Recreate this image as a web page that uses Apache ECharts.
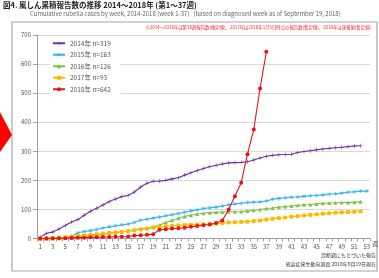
<!DOCTYPE html>
<html>
<head>
<meta charset="utf-8">
<script src="https://cdn.jsdelivr.net/npm/echarts@6/dist/echarts.min.js"></script>
<style>
  html, body { margin: 0; padding: 0; background: #fff; }
  #chart { width: 379px; height: 278px; }
</style>
</head>
<body>
<div id="chart"></div>
<script>
// 風しん累積報告数 週別 2014-2018
var weeks = [];
for (var w = 1; w <= 53; w++) weeks.push(String(w));

var seriesNames = ['2014年 n=319', '2015年 n=163', '2016年 n=126', '2017年 n=93', '2018年 n=642'];
var seriesColors = ['#7030a0', '#35b4ee', '#7dc242', '#ffb800', '#e8131a'];

var cases2014 = [4, 18, 22, 33, 45, 57, 65, 80, 94, 104, 115, 127, 136, 144, 148, 160, 177, 190, 197, 198,
  200, 205, 209, 218, 226, 234, 241, 247, 252, 256, 260, 261, 262, 264, 270, 277, 283, 286, 288, 289,
  290, 296, 299, 302, 305, 308, 310, 312, 314, 316, 318, 319];
var cases2015 = [0, 1, 2, 3, 4, 8, 20, 24, 27, 31, 36, 40, 44, 47, 50, 55, 63, 66, 70, 74,
  78, 82, 86, 90, 95, 99, 103, 106, 108, 112, 116, 119, 121, 124, 125, 126, 129, 135, 138, 140,
  142, 143, 145, 147, 148, 150, 152, 154, 156, 159, 161, 163, 163];
var cases2016 = [0, 0, 1, 1, 2, 3, 5, 7, 10, 12, 15, 18, 20, 23, 26, 30, 33, 36, 40, 46,
  55, 63, 70, 76, 80, 84, 87, 89, 90, 91, 92, 92, 93, 95, 97, 100, 103, 105, 108, 110,
  112, 114, 116, 117, 119, 121, 122, 123, 124, 124, 125, 126];
var cases2017 = [0, 1, 2, 3, 4, 6, 9, 11, 13, 15, 17, 19, 21, 23, 25, 28, 31, 34, 37, 40,
  42, 44, 45, 46, 47, 48, 49, 50, 51, 53, 55, 56, 57, 58, 60, 62, 65, 68, 70, 72,
  75, 77, 79, 81, 83, 85, 87, 89, 90, 91, 92, 93];
var cases2018 = [0, 0, 0, 1, 1, 2, 3, 3, 4, 4, 5, 5, 6, 6, 7, 10, 11, 13, 15, 30,
  32, 34, 35, 37, 40, 43, 46, 48, 53, 62, 100, 145, 192, 290, 375, 516, 642];

var yTicks = [0, 100, 200, 300, 400, 500, 600, 700];

var plusPath = 'path://M4.3,0H5.7V4.3H10V5.7H5.7V10H4.3V5.7H0V4.3H4.3Z';
var starPath = 'path://M4.2,0H5.8V3.6L9,1.8L9.8,3.2L6.6,5L9.8,6.8L9,8.2L5.8,6.4V10H4.2V6.4L1,8.2L0.2,6.8L3.4,5L0.2,3.2L1,1.8L4.2,3.6Z';
var symbols = [plusPath, starPath, 'triangle', 'rect', 'circle'];
var symbolSizes = [4, 4, 4, 3.8, 4];
var allData = [cases2014, cases2015, cases2016, cases2017, cases2018];

var chart = echarts.init(document.getElementById('chart'), null, { renderer: 'canvas' });

var series = [];
for (var i = 0; i < allData.length; i++) {
  series.push({
    name: seriesNames[i],
    type: 'line',
    data: allData[i],
    symbol: symbols[i],
    symbolSize: symbolSizes[i],
    showAllSymbol: true,
    itemStyle: { color: seriesColors[i] },
    lineStyle: { color: seriesColors[i], width: 1.1 },
    z: 2 + i
  });
}

chart.setOption({
  animation: false,
  backgroundColor: '#fff',
  textStyle: { fontFamily: '"Noto Sans CJK JP", "Noto Sans", sans-serif' },
  graphic: [
    // 外枠
    { type: 'rect', shape: { x: 12, y: 22, width: 365, height: 249 },
      style: { fill: 'none', stroke: '#a8a8a8', lineWidth: 1.2 }, z: -1 },
    // 左の赤い矢印
    { type: 'polygon', shape: { points: [[0, 112], [12, 135], [0, 152]] },
      style: { fill: '#ff0000' } },
    { type: 'text', left: 3, top: 1,
      style: { text: '図4. 風しん累積報告数の推移 2014～2018年 (第1～37週)',
        fill: '#222', font: 'bold 7.5px "Noto Sans CJK JP"' } },
    { type: 'text', left: 30, top: 11,
      style: { text: 'Cumulative rubella cases by week, 2014-2018 (week 1-37)   (based on diagnosed week as of September 19, 2018)',
        fill: '#666', font: '6px "Noto Sans CJK JP"' } },
    { type: 'text', right: 8, top: 25,
      style: { text: '※2014～2016年は第38週報告数(確定値)、2017年は2018年1月5日時点の報告数(暫定値)、2018年は速報値(暫定値)',
        fill: '#ff2020', font: '4.4px "Noto Sans CJK JP"' } },
    { type: 'text', left: 372, top: 241,
      style: { text: '週', fill: '#555', font: '6px "Noto Sans CJK JP"' } },
    { type: 'text', right: 3, top: 253,
      style: { text: '診断週にもとづいた報告', fill: '#333', font: '5px "Noto Sans CJK JP"', align: 'right' } },
    { type: 'text', right: 3, top: 262,
      style: { text: '感染症発生動向調査 2018年9月19日現在', fill: '#333', font: '5px "Noto Sans CJK JP"', align: 'right' } }
  ],
  legend: {
    orient: 'vertical',
    left: 50,
    top: 38,
    itemGap: 5,
    itemWidth: 12,
    itemHeight: 5,
    backgroundColor: '#fff',
    padding: [2, 10, 2, 2],
    textStyle: { fontSize: 6.5, color: '#555' },
    data: seriesNames
  },
  grid: { left: 37, right: 9, top: 35, bottom: 39.5 },
  xAxis: {
    type: 'category',
    data: weeks,
    boundaryGap: true,
    axisLine: { lineStyle: { color: '#a0a0a0' } },
    axisTick: { show: true, interval: 0, length: 3, lineStyle: { color: '#a0a0a0' } },
    axisLabel: { interval: 1, fontSize: 6, color: '#555', margin: 5 },
    splitLine: { show: false }
  },
  yAxis: {
    type: 'value',
    min: yTicks[0],
    max: yTicks[yTicks.length - 1],
    interval: 100,
    axisLine: { show: true, lineStyle: { color: '#a0a0a0' } },
    axisTick: { show: true, length: 4, lineStyle: { color: '#a0a0a0' } },
    axisLabel: { fontSize: 6, color: '#555', margin: 6 },
    splitLine: { show: true, lineStyle: { color: '#d9d9d9', width: 1 } }
  },
  series: series
});
</script>
</body>
</html>
